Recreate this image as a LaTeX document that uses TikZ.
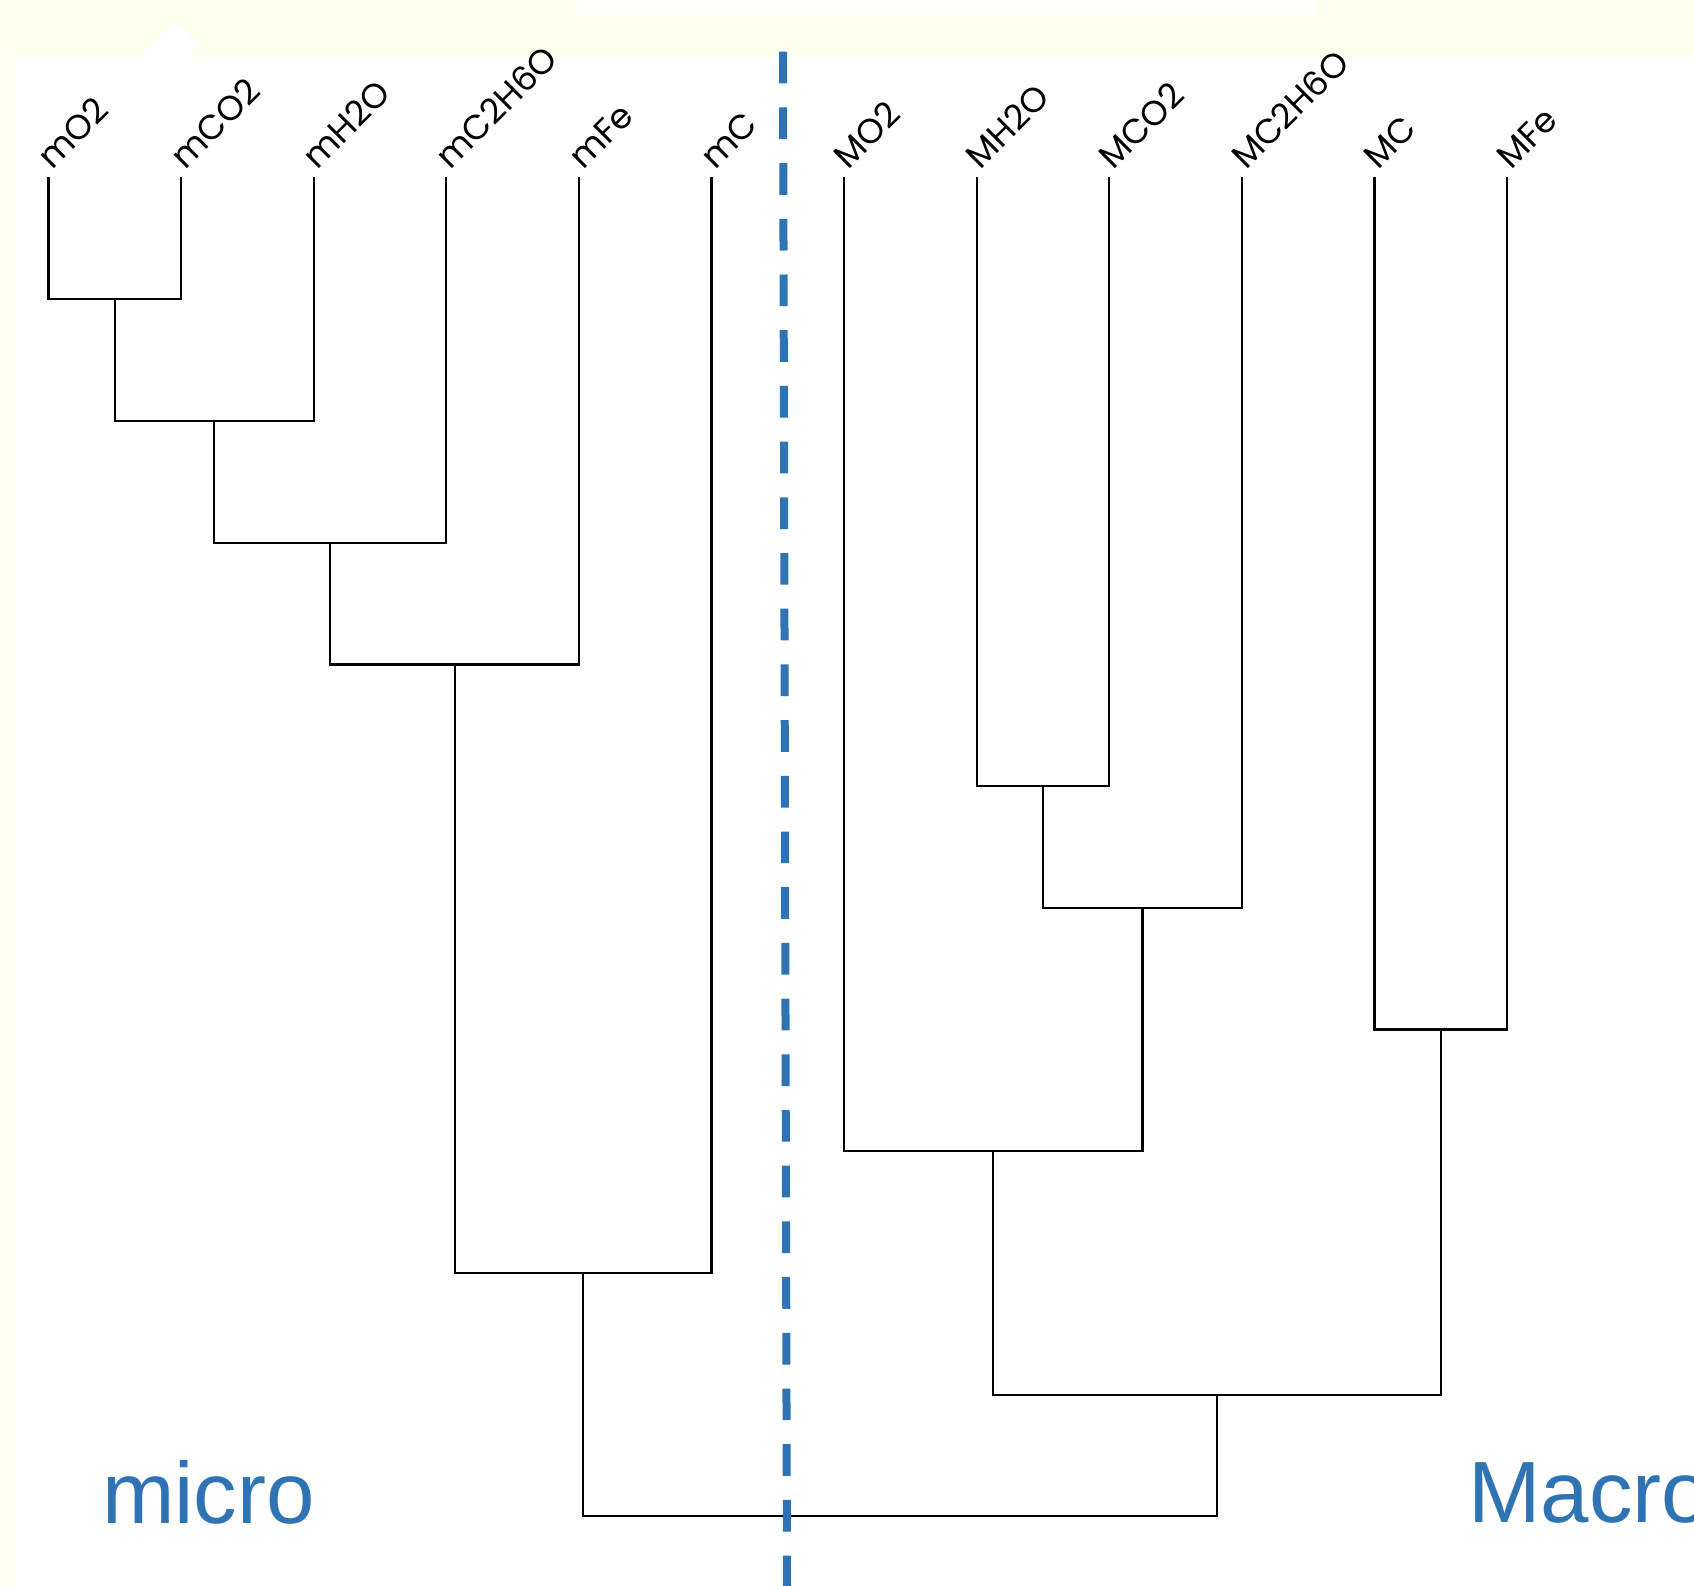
\documentclass[tikz,border=0pt]{standalone}
\usepackage{fontspec}
\setmainfont{Liberation Sans}
\newfontfamily\leaffont{Poppins}
\definecolor{paper}{RGB}{255,255,240}
\definecolor{clusterblue}{RGB}{46,116,181}
\begin{document}
\begin{tikzpicture}[x=1pt,y=-1pt,
  link/.style={line width=2.2pt, black},
  leaflabel/.style={rotate=45, anchor=base west, inner sep=0pt,
    font=\leaffont\fontsize{34.5}{34.5}\selectfont},
  sidelabel/.style={anchor=base west, inner sep=0pt, text=clusterblue,
    font=\fontsize{87}{87}\selectfont},
  divider/.style={clusterblue, line width=8pt, dash pattern=on 31.7pt off 24pt}]

% page background with white sheet
\useasboundingbox (0,0) rectangle (1694,1585);
\fill[paper] (0,0) rectangle (1694,1585);
\fill[white] (15,56.7) rectangle (1694,1585);
\fill[white] (576,0) rectangle (1316,15);
\fill[white] (140,57) -- (166,30) to[out=45,in=135] (183,29) -- (199,45) -- (189,57) -- cycle;

% leaf labels
\foreach \name/\txt/\x in {lbO2/mO2/48.5, lbCO2/mCO2/181.1, lbH2O/mH2O/313.7,
    lbC2H6O/mC2H6O/446.3, lbFe/mFe/578.9, lbC/mC/711.5,
    LbO2/MO2/844.1, LbH2O/MH2O/976.7, LbCO2/MCO2/1109.3,
    LbC2H6O/MC2H6O/1241.9, LbC/MC/1374.5, LbFe/MFe/1507.1}
  \node[leaflabel] (\name) at (\x+4,171) {\txt};

% leaf tops
\coordinate (lO2)     at (48.5,177);
\coordinate (lCO2)    at (181.1,177);
\coordinate (lH2O)    at (313.7,177);
\coordinate (lC2H6O)  at (446.3,177);
\coordinate (lFe)     at (578.9,177);
\coordinate (lC)      at (711.5,177);
\coordinate (LO2)     at (844.1,177);
\coordinate (LH2O)    at (976.7,177);
\coordinate (LCO2)    at (1109.3,177);
\coordinate (LC2H6O)  at (1241.9,177);
\coordinate (LC)      at (1374.5,177);
\coordinate (LFe)     at (1507.1,177);

% merge points
\coordinate (a1)  at (114.8,299.3);
\coordinate (a2)  at (214.25,421.0);
\coordinate (a3)  at (330.3,542.7);
\coordinate (a4)  at (454.6,664.4);
\coordinate (a5)  at (1043,786.1);
\coordinate (a6)  at (1142.45,907.8);
\coordinate (a7)  at (1440.8,1029.5);
\coordinate (a8)  at (993.3,1151.2);
\coordinate (a9)  at (583.05,1272.9);
\coordinate (a10) at (1217.05,1394.6);
\coordinate (a0)  at (900.05,1516.3);

% dendrogram
\draw[link] (lO2) |- (a1) -| (lCO2);
\draw[link] (a1) |- (a2) -| (lH2O);
\draw[link] (a2) |- (a3) -| (lC2H6O);
\draw[link] (a3) |- (a4) -| (lFe);
\draw[link] (a4) |- (a9) -| (lC);
\draw[link] (LH2O) |- (a5) -| (LCO2);
\draw[link] (a5) |- (a6) -| (LC2H6O);
\draw[link] (LC) |- (a7) -| (LFe);
\draw[link] (LO2) |- (a8) -| (a6);
\draw[link] (a8) |- (a10) -| (a7);
\draw[link] (a9) |- (a0) -| (a10);

% divider between the two groups
\coordinate (divtop) at (783,51.7);
\coordinate (divbot) at (787,1600);
\draw[divider] (divtop) -- (divbot);

% group captions
\node[sidelabel] (micro) at (102,1523) {micro};
\node[sidelabel] (macro) at (1468,1522) {Macro};
\end{tikzpicture}
\end{document}
